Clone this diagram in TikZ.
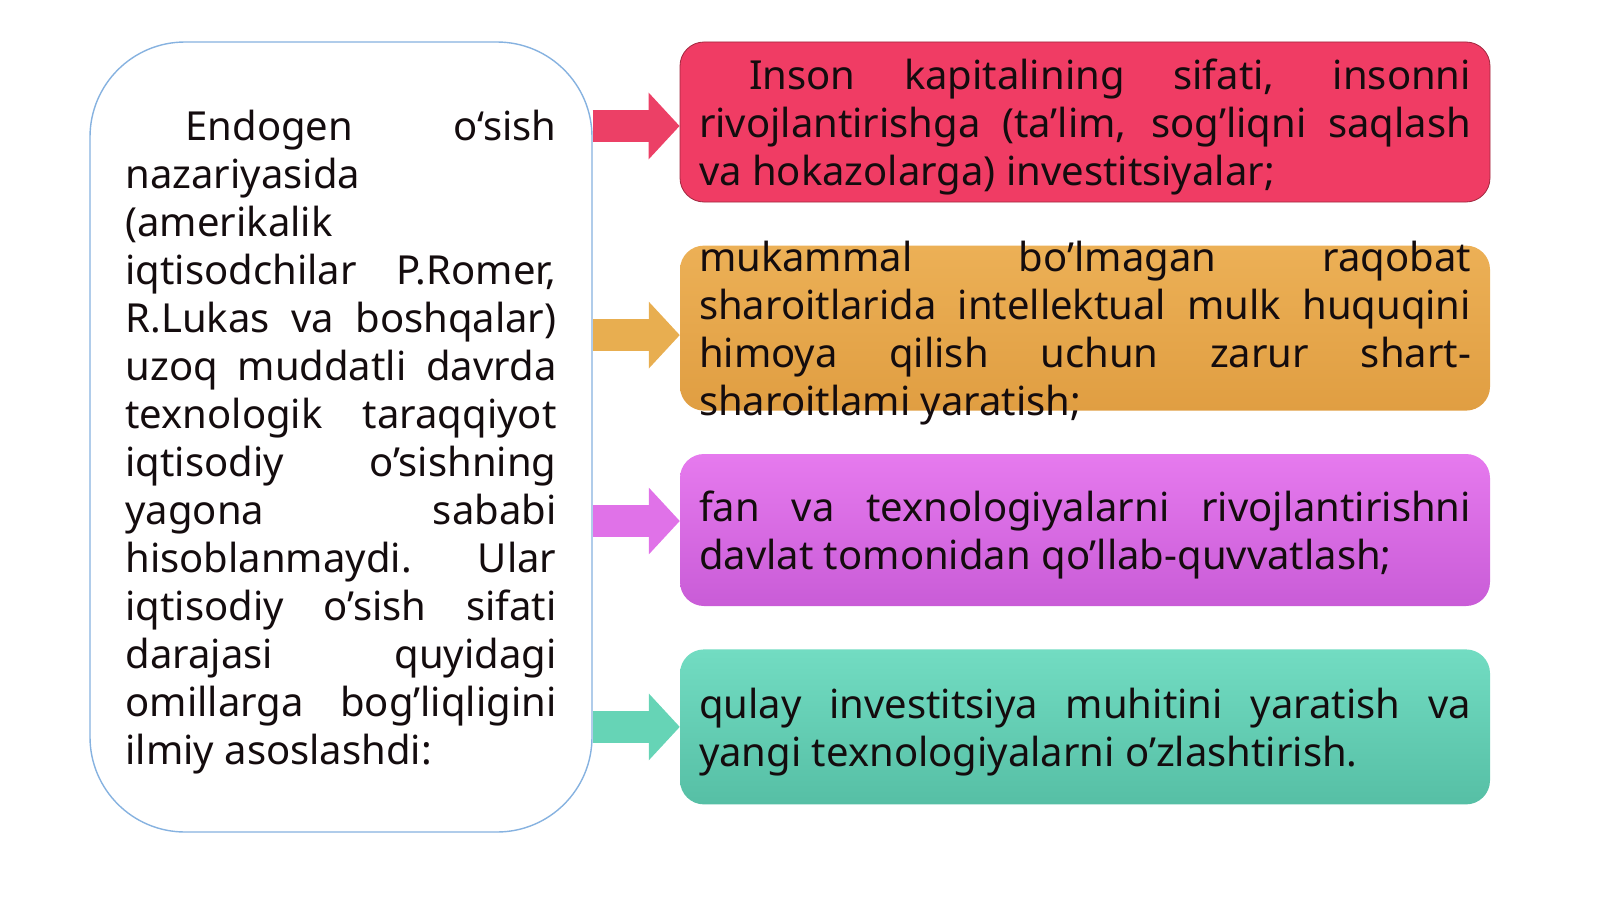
\documentclass[tikz,border=0pt]{standalone}
\usepackage{fontspec}
\setmainfont{Noto Sans}
\usetikzlibrary{positioning,arrows.meta}
\definecolor{leftline}{HTML}{86B2E0}
\definecolor{redfill}{HTML}{F03C64}
\definecolor{redline}{HTML}{A0283F}
\definecolor{orangetop}{HTML}{ECB056}
\definecolor{orangebot}{HTML}{E09E42}
\definecolor{pinktop}{HTML}{E67AEE}
\definecolor{pinkbot}{HTML}{C95CD7}
\definecolor{tealtop}{HTML}{72DCC2}
\definecolor{tealbot}{HTML}{56BFA5}
\definecolor{redarr}{HTML}{EC4066}
\definecolor{orangearr}{HTML}{E8AE50}
\definecolor{pinkarr}{HTML}{E072E8}
\definecolor{tealarr}{HTML}{66D4B6}
\definecolor{ink}{HTML}{140C0E}
\hyphenpenalty=10000
\exhyphenpenalty=10000
\tolerance=10000

\begin{document}
\begin{tikzpicture}[x=1pt,y=-1pt]
                        \tikzstyle{every node}=[font=\fontsize{40}{48}\selectfont, text=ink]
                        \tikzstyle{mainbox}=[draw=leftline, line width=1.4pt, fill=white, rounded corners=95pt, minimum width=502pt, minimum height=790pt]
                        \tikzstyle{itembox}=[rounded corners=24pt, minimum width=810pt]
                        \tikzstyle{maintext}=[text width=431pt, align=justify, inner sep=0pt]
                        \tikzstyle{itemtext}=[text width=772pt, align=justify, inner sep=0pt]
                        \tikzstyle{blockarrow}=[line width=32pt, -{Triangle[length=31pt,width=65pt]}]
                        \useasboundingbox (0,0) rectangle (1600,899);
                        % boxes
                        \node[mainbox] (lbox) at (341,437) {};
                        \node[itembox, draw=redline, line width=0.8pt, fill=redfill, minimum height=160pt] (ins) at (1085,122) {};
                        \node[itembox, top color=orangetop, bottom color=orangebot, minimum height=165pt, below=43pt of ins] (raq) {};
                        \node[itembox, top color=pinktop, bottom color=pinkbot, minimum height=152pt, below=43pt of raq] (fan) {};
                        \node[itembox, top color=tealtop, bottom color=tealbot, minimum height=155pt, below=43pt of fan] (qul) {};
                        % arrows
                        \coordinate (instip) at ([yshift=-4pt]ins.west);
                        \coordinate (raqtip) at ([yshift=-7pt]raq.west);
                        \coordinate (fantip) at ([yshift=9pt]fan.west);
                        \coordinate (qultip) at (qul.west);
                        \draw[blockarrow, redarr] (instip -| lbox.east) -- (instip);
                        \draw[blockarrow, orangearr] (raqtip -| lbox.east) -- (raqtip);
                        \draw[blockarrow, pinkarr] (fantip -| lbox.east) -- (fantip);
                        \draw[blockarrow, tealarr] (qultip -| lbox.east) -- (qultip);
                        % texts
                        \node[maintext] (lboxtxt) at ([yshift=-5pt]lbox.center) {\hspace*{60pt}Endogen o‘sish \linebreak nazariyasida \linebreak (amerikalik \linebreak iqtisodchilar P.Romer, \linebreak R.Lukas va boshqalar) \linebreak uzoq muddatli davrda \linebreak texnologik taraqqiyot \linebreak iqtisodiy o’sishning \linebreak yagona sababi \linebreak hisoblanmaydi. Ular \linebreak iqtisodiy o’sish sifati \linebreak darajasi quyidagi \linebreak omillarga bog’liqligini \linebreak ilmiy asoslashdi:};
                        \node[itemtext] (instxt) at ([yshift=-5pt]ins.center) {\hspace*{50pt}Inson kapitalining sifati, insonni \linebreak rivojlantirishga (ta’lim, sog’liqni saqlash \linebreak va hokazolarga) investitsiyalar;};
                        \node[itemtext] (raqtxt) at ([yshift=-5pt]raq.center) {mukammal bo’lmagan raqobat \linebreak sharoitlarida intellektual mulk huquqini \linebreak himoya qilish uchun zarur shart-\linebreak sharoitlami yaratish;};
                        \node[itemtext] (fantxt) at ([yshift=-5pt]fan.center) {fan va texnologiyalarni rivojlantirishni \linebreak davlat tomonidan qo’llab-quvvatlash;};
                        \node[itemtext] (qultxt) at ([yshift=-5pt]qul.center) {qulay investitsiya muhitini yaratish va \linebreak yangi texnologiyalarni o’zlashtirish.};
                    \end{tikzpicture}
\end{document}
